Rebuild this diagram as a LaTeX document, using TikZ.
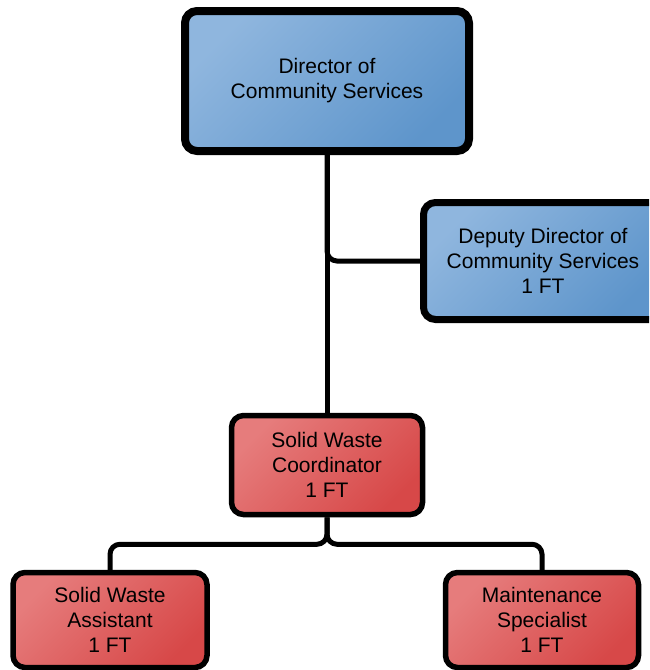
\documentclass[tikz,border=0pt]{standalone}
\usepackage{fontspec}
\setmainfont{Liberation Sans}
\usepackage{tikz}
\usetikzlibrary{positioning,calc}
\definecolor{bluelight}{RGB}{143,182,222}
\definecolor{bluedark}{RGB}{94,149,203}
\definecolor{redlight}{RGB}{230,124,124}
\definecolor{reddark}{RGB}{215,72,72}

\begin{document}
\begin{tikzpicture}[
    x=1pt, y=-1pt,
    post/.style={rectangle, rounded corners=12pt, draw=black, align=center,
                 font=\fontsize{21}{25}\selectfont, inner sep=0pt},
    bluepost/.style={post, top color=bluelight, bottom color=bluedark, shading angle=45},
    redpost/.style={post, top color=redlight, bottom color=reddark, shading angle=45,
                    line width=5.5pt},
    link/.style={draw=black, line width=5pt, rounded corners=10pt}
]
    \useasboundingbox (0,0) rectangle (649,670);
    \clip (0,0) rectangle (649,670);

    % Management
    \node[bluepost, line width=8pt, minimum width=284pt, minimum height=140pt]
        (director) at (327,81) {Director of\\Community Services};
    \node[bluepost, line width=7pt, minimum width=239pt, minimum height=117pt]
        (deputy) at (543,261) {Deputy Director of\\Community Services\\1 FT};

    % Solid waste
    \node[redpost, minimum width=191pt, minimum height=99pt]
        (coordinator) at (327,465) {Solid Waste\\Coordinator\\1 FT};
    \node[redpost, minimum width=194pt, minimum height=95pt]
        (assistant) at (110,620) {Solid Waste\\Assistant\\1 FT};
    \node[redpost, minimum width=193pt, minimum height=95pt]
        (maintenance) at (542,620) {Maintenance\\Specialist\\1 FT};

    % Connectors
    \path[link] (director.south) |- (deputy.west);
    \path[link] (director.south) -- (coordinator.north);
    \coordinate (split) at ($(coordinator.south)+(0,27)$);
    \path[link] (coordinator.south) -- (split) -| (assistant.north);
    \path[link] (coordinator.south) -- (split) -| (maintenance.north);
\end{tikzpicture}
\end{document}
